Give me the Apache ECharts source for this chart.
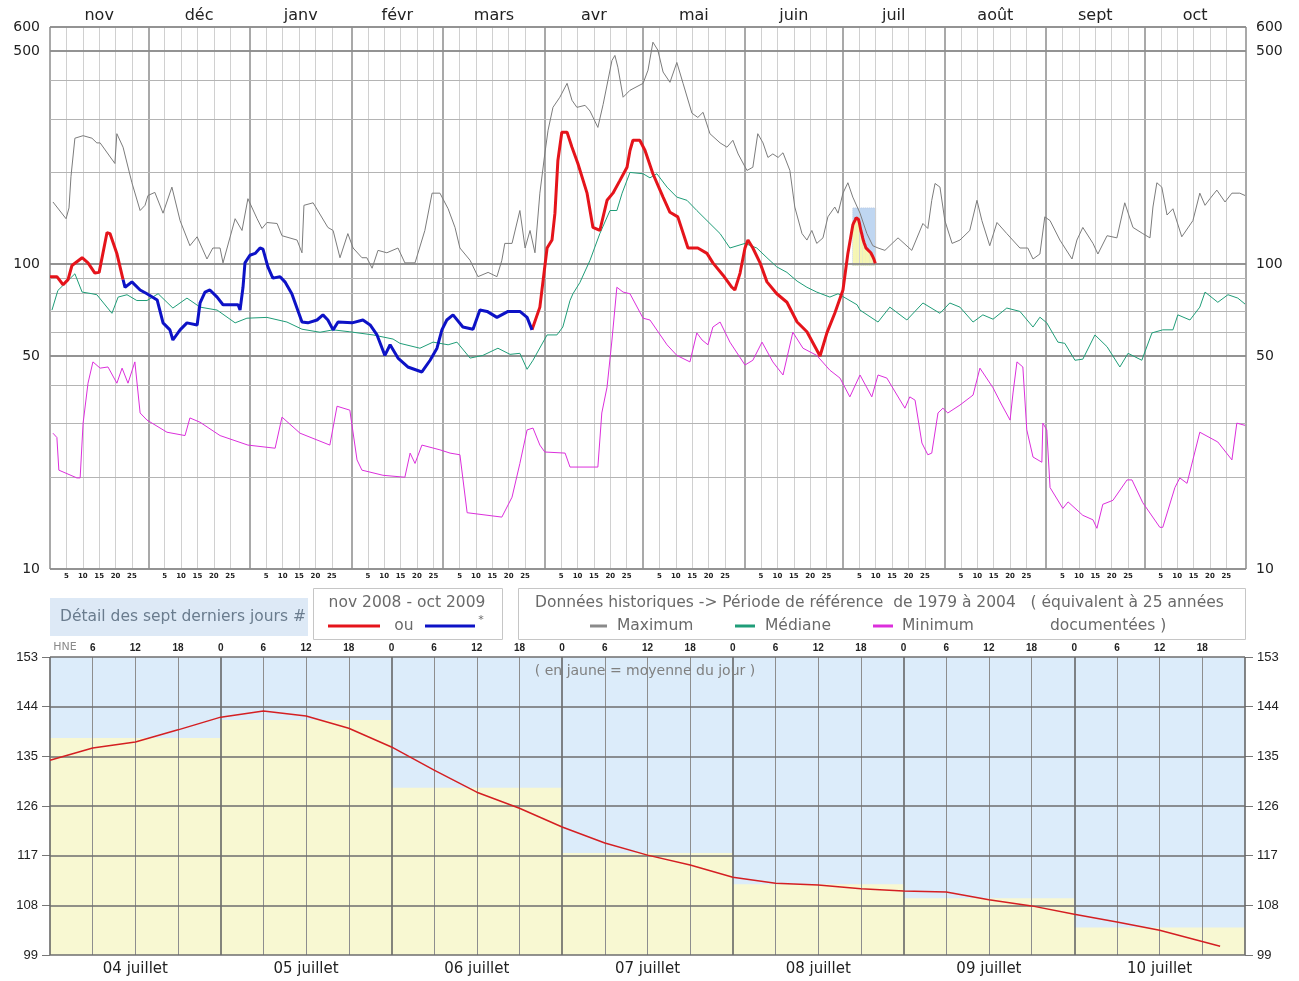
<!DOCTYPE html>
<html>
<head>
<meta charset="utf-8">
<script src="https://cdn.jsdelivr.net/npm/echarts@6/dist/echarts.min.js"></script>
<style>
html, body { margin: 0; padding: 0; background: #ffffff; }
#chart { width: 1299px; height: 981px; }
</style>
</head>
<body>
<div id="chart"></div>
<script>
// ---- Calendar of the hydrological year (nov 2008 - oct 2009) ----
const months = ['nov', 'déc', 'janv', 'févr', 'mars', 'avr', 'mai', 'juin', 'juil', 'août', 'sept', 'oct'];
const monthLengths = [30, 31, 31, 28, 31, 30, 31, 30, 31, 31, 30, 31];
const dayTicks = [5, 10, 15, 20, 25];

// ---- Log-scale flow axis ----
const flowMin = 10;
const flowMax = 600;
const flowGridMajor = [10, 50, 100, 500, 600];
const flowGridMinor = [20, 30, 40, 60, 70, 80, 90, 200, 300, 400];
const flowLabels = [10, 50, 100, 500, 600];

// ---- Historical series 1979-2004: [day of year, flow] ----
const maximum = [[0.9,160],[4.9,141],[5.8,153],[6.4,194],[7.6,259],[10.1,264],[12.8,259],[14.3,250],[15.3,250],[19.8,214],[20.4,268],[22.3,242],[25,185],[27.5,150],[29,156],[29.9,168],[32,172],[34.5,147],[37.2,179],[39.7,139],[42.7,115],[44.9,123],[47.9,104],[49.7,113],[51.9,113],[52.8,101],[56.5,141],[58.6,129],[60.4,164],[63.2,141],[64.7,131],[66.2,137],[69.3,136],[70.8,124],[75.4,120],[76.9,109],[77.5,156],[80.3,159],[84.8,132],[86.4,129],[88.5,105],[90.9,126],[92.5,113],[95.2,105],[96.7,105],[98.3,97],[100.1,111],[102.8,109],[106.2,113],[108.3,101],[111.4,101],[114.4,129],[116.6,171],[119,171],[121.5,152],[123.6,132],[125.1,113],[128.2,103],[130.6,91],[133.7,94],[136.4,91],[137.9,103],[138.8,117],[141,117],[143.4,150],[145,113],[146.5,129],[148,109],[149.5,171],[151,230],[152,275],[153.5,327],[155.6,353],[157.8,392],[159.3,345],[160.8,327],[163.3,332],[164.8,318],[167.2,281],[168.8,334],[171.5,466],[172.4,484],[173.3,443],[174.9,353],[177,372],[181,392],[182.5,433],[184,535],[185.5,504],[187.1,427],[189.2,395],[191.3,459],[193.2,392],[195.9,313],[197.7,303],[199.3,315],[201.4,268],[204.5,250],[206.6,242],[208.4,255],[210,230],[212.7,203],[214.5,208],[216,268],[217.6,250],[219.1,224],[220.6,230],[222.2,224],[223.7,232],[225.8,203],[227.3,154],[229.5,126],[231,120],[232.5,129],[234,117],[235.9,122],[237.4,143],[239.5,154],[240.5,147],[242,171],[243.5,185],[245,166],[247.2,147],[249.3,126],[251.1,115],[252.7,113],[254.8,111],[258.8,122],[263,111],[266.4,136],[267.9,131],[269.1,162],[270.1,184],[271.6,179],[273.1,139],[275.3,117],[277.7,120],[280.7,129],[282.9,162],[284.4,139],[286.8,115],[289,137],[292,126],[296,113],[298.4,113],[300,104],[302.1,108],[303.6,143],[305.2,139],[308.2,120],[311.9,104],[313.4,120],[315.2,132],[318.3,117],[319.8,108],[322.6,124],[325.6,122],[328,159],[330.5,132],[333.5,126],[335.7,122],[336.6,154],[337.8,185],[339.3,179],[340.9,145],[342.7,152],[345.4,123],[348.8,139],[350.9,171],[352.5,156],[354,164],[356.1,175],[358.6,160],[360.7,171],[363.1,171],[364.7,168]];

const median = [[0.6,70.7],[2.4,82],[7.6,93],[9.8,81],[12.8,80],[14.3,79.4],[18.9,69],[20.8,78],[23.5,79.4],[26.5,76],[29.6,76],[33,80],[37.5,71.8],[41.8,77.4],[45.8,72.3],[51,70.7],[56.5,64.2],[60.1,66.5],[66.2,66.9],[72.3,64.6],[76.9,61.2],[82.4,59.8],[86.4,60.9],[91.5,60],[98.6,58.6],[104.7,56.8],[106.8,55],[112.9,53],[116.9,55.5],[121.5,54.4],[124.2,55.5],[128.2,49.2],[132.1,50.2],[136.7,53],[140.4,50.6],[143.4,51],[145.6,45.2],[147.4,48.4],[151.7,58.6],[154.7,58.6],[156.5,62.2],[158.7,76],[159.6,80],[161.7,87],[164.8,103],[167.8,126],[170.9,150],[173,150],[174.6,171],[177,200],[181,198],[183.1,192],[185.2,198],[188.3,179],[191.3,166],[194.4,162],[197.4,150],[200.5,139],[204.5,126],[207.5,113],[212.1,117],[215.7,113],[218.8,105],[221.8,98],[224.9,94],[228,88],[231,84],[234,81],[238,78],[240.5,80],[246.3,73.6],[247.2,70.7],[252.7,64.6],[256.3,72.3],[261.5,65.6],[266.4,74.6],[271.6,69],[274.6,74.6],[277.7,72.3],[281.7,64.6],[284.7,68.2],[287.8,66],[292,71.8],[296,70],[300,62.2],[302.1,67],[304.2,64.2],[307.6,55.5],[309.7,55],[312.8,48.4],[315.2,48.8],[318.9,58.6],[322.6,53.6],[326.5,46],[329,51],[333.2,48.4],[336.3,59.5],[339.6,60.9],[342.7,60.9],[344.2,68.2],[347.9,65.6],[350.9,72.3],[352.5,81],[356.4,75],[359.5,79.4],[362.5,77.4],[364.7,74]];

const minimum = [[0.9,27.9],[2.1,27],[2.7,21.1],[8.2,19.9],[9.2,19.9],[10.1,30.1],[11.6,40.7],[13.1,47.8],[15.3,45.6],[17.7,46],[20.4,40.7],[22,45.6],[23.8,40.7],[25.9,47.8],[27.5,32.5],[29.6,30.8],[35.7,28.1],[41.2,27.4],[42.7,31.3],[45.8,30.3],[51.9,27.4],[60.4,25.5],[68.7,24.9],[70.8,31.5],[76.3,27.9],[85.4,25.5],[87.6,34.2],[91.5,33.2],[93.7,22.8],[95.2,21.1],[101.6,20.3],[108.3,20],[109.9,24],[111.4,22.2],[113.5,25.5],[119,24.6],[122.1,24],[125.1,23.7],[127.3,15.3],[137.9,14.8],[141,17.2],[143.4,22.2],[145.6,28.6],[147.4,29],[149.5,25.5],[151,24.2],[157.2,24],[158.7,21.6],[167.2,21.6],[168.4,32.5],[170,39.5],[171.5,56.4],[173,84],[174.9,81],[177,80],[181,66.5],[183.1,65.6],[188.3,54.4],[191.3,50.2],[195.3,47.8],[197.4,59.5],[199,56.4],[200.8,54.4],[202.3,62.2],[204.5,64.6],[207.5,55.5],[212.1,46.7],[214.5,48.4],[217.3,55.5],[220.6,47.8],[223.7,43.3],[226.7,59.8],[229.8,53],[234,50.2],[238,44.9],[241.1,42.3],[244.1,36.7],[247.2,43.3],[250.8,36.7],[252.7,43.3],[255.4,42.3],[260.9,33.7],[262.4,36.7],[264,35.8],[266.1,25.9],[267.9,23.7],[269.1,24],[271,32.5],[272.5,33.7],[274,32.5],[277.7,34.5],[281.7,37.2],[283.8,45.6],[287.8,39.3],[290.5,34.5],[293,30.8],[293.9,37.8],[295.1,47.8],[296.9,46],[298.1,28.6],[300,23.3],[302.7,22.4],[303,30.1],[304.2,28.6],[305.2,18.5],[309.1,15.8],[310.7,16.6],[315.2,15],[318.3,14.5],[319.5,13.6],[321.3,16.3],[324.4,16.8],[328.7,19.6],[330.2,19.6],[333.5,16.5],[338.7,13.7],[339.6,13.7],[343.3,18.5],[344.8,19.9],[347,19.1],[350.9,28.1],[356.4,26.1],[360.7,22.8],[362.2,30.1],[364.7,29.6]];

// ---- Current year: red (ou) and blue (*) stretches ----
const currentRedStart = [[0,91],[2.1,91],[4,85.6],[5.5,89],[6.7,99],[9.8,105],[11.6,101],[13.7,93.5],[15,94],[17.4,127],[18.3,126],[20.4,108.5],[22.3,89]];
const currentBlue = [[22.3,89],[22.9,84],[25,87.5],[27.5,82.3],[29.6,80],[32.7,76.3],[34.5,64.2],[36.6,60.9],[37.5,56.4],[39.7,60.9],[41.8,64.2],[44.9,63.2],[45.8,74.6],[47.3,81],[48.8,82.3],[51,78],[52.8,73.6],[57.4,73.6],[58,70.7],[58.9,84],[59.5,101],[61,107],[62.6,108.5],[64.1,113],[65,112],[66.5,98],[68,90],[70.2,91],[71.7,87.5],[73.8,80],[76.9,64.6],[78.7,64.2],[81.5,65.6],[83.3,68.2],[84.8,65.6],[86.4,60.9],[87.9,64.6],[92.2,64.2],[95.5,65.6],[97.7,63.2],[99.8,58.6],[102.2,50.2],[103.8,54.4],[106.2,49.2],[109.2,46],[113.5,44.3],[116,48.4],[118.1,53],[119.6,60.9],[121.1,65.6],[123,68.2],[126,62.2],[129.1,61.2],[131.2,70.7],[133.4,70],[136.4,66.9],[139.8,70],[143.4,70],[145.6,66.9],[147.1,60.9]];
const currentRedEnd = [[147.1,60.9],[149.5,72.3],[151.7,113],[153.2,120],[154.1,147],[155,219],[156.2,271],[157.8,271],[159.3,242],[161.1,214],[163.9,171],[165.7,132],[167.8,129],[170,162],[171.8,171],[173.9,188],[176.1,208],[177,236],[177.9,255],[180,255],[181.6,236],[184,198],[187.1,166],[189.2,148],[191.6,143],[194.7,113],[197.7,113],[200.5,108.5],[202.3,101],[205.4,92],[208.1,84],[209,82.3],[210.6,93.5],[212.1,113],[213,120],[214.5,113],[216.7,101],[218.8,87.5],[221.8,80],[224.9,75],[228,64.6],[231,60],[235,50],[237.1,59.5],[239.5,69],[242,82.3],[243.5,108.5]];

// ---- Last seven days (hourly detail, HNE) ----
const detailStartDay = 245;          // 4 juillet in the year above
const detailDays = ['04 juillet', '05 juillet', '06 juillet', '07 juillet', '08 juillet', '09 juillet', '10 juillet'];
const detailHours = [0,6,12,18,24,30,36,42,48,54,60,66,72,78,84,90,96,102,108,114,120,126,132,138,144,150,156,164.5];
const detailFlow = [134.3,136.5,137.6,139.8,142.1,143.2,142.3,140.1,136.7,132.5,128.5,125.6,122.2,119.3,117.1,115.3,113.1,112.0,111.7,111.0,110.6,110.4,109.0,107.9,106.4,105.0,103.5,100.6];
const dailyMeans = [138.3, 141.6, 129.3, 117.5, 111.8, 109.3, 104.0];
const detailMin = 99;
const detailMax = 153;
const detailStep = 9;
const hourStep = 6;

// ---- Derived positions ----
const monthStarts = [];
let acc = 0;
monthLengths.forEach(l => { monthStarts.push(acc); acc += l; });
const yearLength = acc;
const monthBounds = monthStarts.concat([yearLength]);
const monthMids = monthStarts.map((s, i) => s + monthLengths[i] / 2);
const minorDays = [];
monthStarts.forEach(s => dayTicks.forEach(d => minorDays.push(s + d)));

function monthIndexOf(v) {
  let idx = 0;
  for (let i = 0; i < monthStarts.length; i++) if (monthStarts[i] <= v + 1e-6) idx = i;
  return idx;
}

const detailPoints = detailHours.map((h, i) => [h, detailFlow[i]]);
const detailInYear = detailHours.map((h, i) => [detailStartDay + h / 24, detailFlow[i]]);
const currentRed = currentRedStart.concat([[22.3, null]], currentRedEnd, detailInYear);

const labelFont = '"DejaVu Sans", Verdana, sans-serif';
const legendFont = '15.5px "DejaVu Sans"';

// gridlines of the yearly chart
const yearGrid = [];
monthBounds.forEach(v => yearGrid.push({ xAxis: v, lineStyle: { color: '#8c8c8c', width: 1.5, type: 'solid' } }));
minorDays.forEach(v => yearGrid.push({ xAxis: v, lineStyle: { color: '#d0d0d0', width: 1, type: 'solid' } }));
flowGridMinor.forEach(v => yearGrid.push({ yAxis: v, lineStyle: { color: '#b4b4b4', width: 1, type: 'solid' } }));
flowLabels.forEach(v => {
  const lab = { show: true, formatter: String(v), color: '#222', fontSize: 14, fontFamily: labelFont, distance: 10 };
  yearGrid.push({ yAxis: v, lineStyle: { color: '#8c8c8c', width: 1.5, type: 'solid' }, label: Object.assign({ position: 'start' }, lab) });
  yearGrid.push({ yAxis: v, lineStyle: { color: '#8c8c8c', width: 1.5, type: 'solid' }, label: Object.assign({ position: 'end' }, lab) });
});
flowGridMajor.filter(v => flowLabels.indexOf(v) < 0)
  .forEach(v => yearGrid.push({ yAxis: v, lineStyle: { color: '#8c8c8c', width: 1.5, type: 'solid' } }));

// gridlines of the seven-day chart
const detailGrid = [];
for (let h = 0; h <= 7 * 24; h += hourStep) {
  const isDay = h % 24 === 0;
  detailGrid.push({ xAxis: h, lineStyle: { color: isDay ? '#5e5e5e' : '#8e8e8e', width: isDay ? 1.5 : 1, type: 'solid' } });
}
for (let v = detailMin; v <= detailMax; v += detailStep) {
  detailGrid.push({ yAxis: v, lineStyle: { color: '#6e6e6e', width: 1.5, type: 'solid' } });
}

// daily mean blocks (yellow) and the highlighted window in the yearly chart
const meanBlocksYear = dailyMeans.map((m, i) => [
  { xAxis: detailStartDay + i, yAxis: detailMin },
  { xAxis: detailStartDay + i + 1, yAxis: m }
]);
const meanBlocksDetail = dailyMeans.map((m, i) => [
  { xAxis: i * 24, yAxis: detailMin },
  { xAxis: (i + 1) * 24, yAxis: m }
]);

const chart = echarts.init(document.getElementById('chart'), null, { renderer: 'canvas' });

const option = {
  animation: false,
  backgroundColor: '#ffffff',
  textStyle: { fontFamily: labelFont },
  grid: [
    { left: 50, right: 53, top: 27, height: 542 },
    { left: 50, right: 54, top: 657, height: 298, show: true, backgroundColor: '#dcecfa', borderWidth: 0 }
  ],
  xAxis: [
    { // yearly chart, day numbers at the bottom
      type: 'value', gridIndex: 0, min: 0, max: yearLength, position: 'bottom',
      axisLine: { show: false }, axisTick: { show: false }, splitLine: { show: false },
      axisLabel: {
        customValues: minorDays, margin: 4, fontSize: 7, fontWeight: 'bold', color: '#222',
        formatter: v => String(Math.round(v - monthStarts[monthIndexOf(v)]))
      }
    },
    { // yearly chart, month names on top
      type: 'value', gridIndex: 0, min: 0, max: yearLength, position: 'top',
      axisLine: { show: false }, axisTick: { show: false }, splitLine: { show: false },
      axisLabel: {
        customValues: monthMids, margin: 3, fontSize: 16, color: '#222',
        formatter: v => months[monthIndexOf(v)]
      }
    },
    { // seven-day chart, hours on top
      type: 'value', gridIndex: 1, min: 0, max: 7 * 24, interval: hourStep, position: 'top',
      axisLine: { show: false }, axisTick: { show: false }, splitLine: { show: false },
      axisLabel: {
        margin: 4, showMaxLabel: false,
        formatter: v => v === 0 ? '{hne|HNE}' : '{h|' + (v % 24) + '}',
        rich: {
          hne: { color: '#8a8a8a', fontSize: 11, fontFamily: labelFont, padding: [0, 0, 0, 30] },
          h: { color: '#222', fontSize: 10, fontWeight: 'bold', fontFamily: '"Liberation Sans", Arial, sans-serif' }
        }
      }
    },
    { // seven-day chart, day names at the bottom
      type: 'category', gridIndex: 1, data: detailDays, boundaryGap: true, position: 'bottom',
      axisLine: { show: false }, axisTick: { show: false }, splitLine: { show: false },
      axisLabel: { margin: 7, fontSize: 15, color: '#222', fontFamily: labelFont }
    }
  ],
  yAxis: [
    {
      type: 'log', gridIndex: 0, logBase: 10, min: flowMin, max: flowMax,
      axisLine: { show: false }, axisTick: { show: false }, axisLabel: { show: false }, splitLine: { show: false }
    },
    {
      type: 'value', gridIndex: 1, min: detailMin, max: detailMax, interval: detailStep, position: 'left',
      axisLine: { show: false }, axisTick: { show: true, length: 8, lineStyle: { color: '#777' } },
      splitLine: { show: false },
      axisLabel: { margin: 12, fontSize: 13, color: '#222', fontFamily: '"Liberation Sans", Arial, sans-serif' }
    },
    {
      type: 'value', gridIndex: 1, min: detailMin, max: detailMax, interval: detailStep, position: 'right',
      axisLine: { show: false }, axisTick: { show: true, length: 8, lineStyle: { color: '#777' } },
      splitLine: { show: false },
      axisLabel: { margin: 12, fontSize: 13, color: '#222', fontFamily: '"Liberation Sans", Arial, sans-serif' }
    }
  ],
  series: [
    { // highlighted last seven days in the yearly chart
      name: 'fenêtre', type: 'line', xAxisIndex: 0, yAxisIndex: 0, data: [], z: 1, silent: true,
      markArea: {
        silent: true,
        itemStyle: { color: 'rgba(170,200,236,0.75)', borderColor: '#b6c9e0', borderWidth: 1, borderType: 'dotted' },
        data: [[{ xAxis: detailStartDay, yAxis: detailMin }, { xAxis: detailStartDay + 7, yAxis: detailMax }]]
      }
    },
    {
      name: 'moyennes', type: 'line', xAxisIndex: 0, yAxisIndex: 0, data: [], z: 1.5, silent: true,
      markArea: { silent: true, itemStyle: { color: '#f6f6b4' }, data: meanBlocksYear }
    },
    {
      name: 'grille', type: 'line', xAxisIndex: 0, yAxisIndex: 0, data: [], z: 2, silent: true,
      markLine: { silent: true, symbol: ['none', 'none'], label: { show: false }, lineStyle: { type: 'solid' }, data: yearGrid }
    },
    {
      name: 'Maximum', type: 'line', xAxisIndex: 0, yAxisIndex: 0, data: maximum, z: 5,
      symbol: 'none', lineStyle: { color: '#7c7c7c', width: 1 }
    },
    {
      name: 'Médiane', type: 'line', xAxisIndex: 0, yAxisIndex: 0, data: median, z: 5,
      symbol: 'none', lineStyle: { color: '#1f9d78', width: 1 }
    },
    {
      name: 'Minimum', type: 'line', xAxisIndex: 0, yAxisIndex: 0, data: minimum, z: 5,
      symbol: 'none', lineStyle: { color: '#dc2fdc', width: 1 }
    },
    {
      name: 'ou', type: 'line', xAxisIndex: 0, yAxisIndex: 0, data: currentRed, z: 7, connectNulls: false,
      symbol: 'none', lineStyle: { color: '#e5141b', width: 3 }
    },
    {
      name: '*', type: 'line', xAxisIndex: 0, yAxisIndex: 0, data: currentBlue, z: 7,
      symbol: 'none', lineStyle: { color: '#0d12c6', width: 3 }
    },
    { // daily means in the seven-day chart
      name: 'moyenne du jour', type: 'line', xAxisIndex: 2, yAxisIndex: 1, data: [], z: 1, silent: true,
      markArea: { silent: true, itemStyle: { color: '#f8f8d2' }, data: meanBlocksDetail }
    },
    {
      name: 'grille détail', type: 'line', xAxisIndex: 2, yAxisIndex: 1, data: [], z: 2, silent: true,
      markLine: { silent: true, symbol: ['none', 'none'], label: { show: false }, lineStyle: { type: 'solid' }, data: detailGrid }
    },
    {
      name: 'débit', type: 'line', xAxisIndex: 2, yAxisIndex: 1, data: detailPoints, z: 6,
      symbol: 'none', lineStyle: { color: '#d41f22', width: 1.5 }
    }
  ],
  graphic: [
    { type: 'rect', silent: true, shape: { x: 50, y: 598, width: 258, height: 38 }, style: { fill: '#dde9f6' } },
    { type: 'text', silent: true, style: { x: 60, y: 617, text: 'Détail des sept derniers jours #', fill: '#6a7c8e', font: legendFont, verticalAlign: 'middle' } },

    { type: 'rect', silent: true, shape: { x: 313.5, y: 588.5, width: 189, height: 51 }, style: { fill: '#ffffff', stroke: '#c6c6c6', lineWidth: 1 } },
    { type: 'text', silent: true, style: { x: 407, y: 603, text: 'nov 2008 - oct 2009', fill: '#6a6a6a', font: legendFont, align: 'center', verticalAlign: 'middle' } },
    { type: 'line', silent: true, shape: { x1: 328, y1: 626, x2: 380, y2: 626 }, style: { stroke: '#e5141b', lineWidth: 3 } },
    { type: 'text', silent: true, style: { x: 404, y: 626, text: 'ou', fill: '#6a6a6a', font: legendFont, align: 'center', verticalAlign: 'middle' } },
    { type: 'line', silent: true, shape: { x1: 425, y1: 626, x2: 475, y2: 626 }, style: { stroke: '#0d12c6', lineWidth: 3 } },
    { type: 'text', silent: true, style: { x: 481, y: 620, text: '*', fill: '#6a6a6a', font: '11px "DejaVu Sans"', align: 'center', verticalAlign: 'middle' } },

    { type: 'rect', silent: true, shape: { x: 518.5, y: 588.5, width: 727, height: 51 }, style: { fill: '#ffffff', stroke: '#c6c6c6', lineWidth: 1 } },
    { type: 'text', silent: true, style: { x: 535, y: 603, text: 'Données historiques -> Période de référence  de 1979 à 2004   ( équivalent à 25 années', fill: '#6a6a6a', font: legendFont, verticalAlign: 'middle' } },
    { type: 'line', silent: true, shape: { x1: 590, y1: 626, x2: 607, y2: 626 }, style: { stroke: '#8a8a8a', lineWidth: 3 } },
    { type: 'text', silent: true, style: { x: 617, y: 626, text: 'Maximum', fill: '#6a6a6a', font: legendFont, verticalAlign: 'middle' } },
    { type: 'line', silent: true, shape: { x1: 735, y1: 626, x2: 755, y2: 626 }, style: { stroke: '#1f9d78', lineWidth: 3 } },
    { type: 'text', silent: true, style: { x: 765, y: 626, text: 'Médiane', fill: '#6a6a6a', font: legendFont, verticalAlign: 'middle' } },
    { type: 'line', silent: true, shape: { x1: 873, y1: 626, x2: 893, y2: 626 }, style: { stroke: '#dc2fdc', lineWidth: 3 } },
    { type: 'text', silent: true, style: { x: 902, y: 626, text: 'Minimum', fill: '#6a6a6a', font: legendFont, verticalAlign: 'middle' } },
    { type: 'text', silent: true, style: { x: 1050, y: 626, text: 'documentées )', fill: '#6a6a6a', font: legendFont, verticalAlign: 'middle' } },

    { type: 'text', silent: true, z: 10, style: { x: 645, y: 671, text: '( en jaune = moyenne du jour )', fill: '#808080', font: '14px "DejaVu Sans"', align: 'center', verticalAlign: 'middle' } }
  ]
};

chart.setOption(option);
</script>
</body>
</html>
